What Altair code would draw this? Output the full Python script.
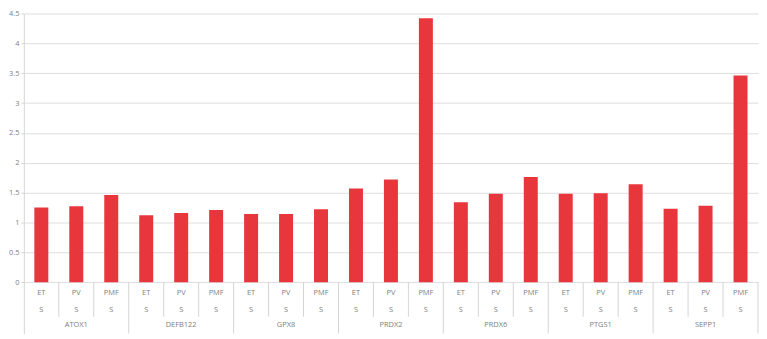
import altair as alt
import pandas as pd

genes = ["ATOX1", "DEFB122", "GPX8", "PRDX2", "PRDX6", "PTGS1", "SEPP1"]
conditions = ["ET", "PV", "PMF"]
sample_label = "S"
values_et = [1.25, 1.12, 1.14, 1.57, 1.34, 1.48, 1.23]
values_pv = [1.27, 1.16, 1.14, 1.72, 1.48, 1.49, 1.28]
values_pmf = [1.46, 1.21, 1.22, 4.42, 1.76, 1.64, 3.46]
y_ticks = [0.0, 0.5, 1.0, 1.5, 2.0, 2.5, 3.0, 3.5, 4.0, 4.5]

# layout constants (data units of the y scale for the category table below zero)
ROW_COND = -0.18
ROW_SAMPLE = -0.46
ROW_GENE = -0.72
SEP_SHORT = -0.58
Y_MIN = -0.86
HALF_BAR = 0.2

series = {"ET": values_et, "PV": values_pv, "PMF": values_pmf}
rows = []
for g, gene in enumerate(genes):
    for c, cond in enumerate(conditions):
        i = 3 * g + c
        rows.append({"slot": i, "lo": i - HALF_BAR, "hi": i + HALF_BAR,
                     "gene": gene, "cond": cond, "sample": sample_label,
                     "value": series[cond][g], "base": 0.0,
                     "rc": ROW_COND, "rs": ROW_SAMPLE})
df = pd.DataFrame(rows)
n = len(df)

gene_df = pd.DataFrame({"slot": [3 * g + 1 for g in range(len(genes))], "gene": genes,
                        "rg": [ROW_GENE] * len(genes)})

sep_rows = []
for i in range(1, n + 1):
    sep_rows.append({"x": i - 0.5, "y": 0.0, "y2": Y_MIN if i % 3 == 0 else SEP_SHORT})
sep_df = pd.DataFrame(sep_rows)

xscale = alt.Scale(domain=[-0.5, n - 0.5], nice=False, zero=False)
yscale = alt.Scale(domain=[Y_MIN, 4.5], nice=False, zero=False)

FONT = "Open Sans"
TXT = "#808080"

yaxis = alt.Axis(values=y_ticks, format="~g", grid=True, gridColor="#dedede",
                 domainColor="#d4d4d4", tickColor="#d4d4d4", tickSize=3,
                 labelFont=FONT, labelFontSize=7.5, labelColor=TXT, labelPadding=2,
                 title=None)

bars = alt.Chart(df).mark_bar(color="#E8363D").encode(
    x=alt.X("lo:Q", scale=xscale, axis=None),
    x2="hi:Q",
    y=alt.Y("value:Q", scale=yscale, axis=yaxis),
    y2="base:Q",
)

seps = alt.Chart(sep_df).mark_rule(color="#d4d4d4", strokeWidth=1).encode(
    x=alt.X("x:Q", scale=xscale, axis=None),
    y=alt.Y("y:Q", scale=yscale, axis=yaxis),
    y2="y2:Q",
)

def text_layer(data, yfield, tfield):
    return alt.Chart(data).mark_text(font=FONT, fontSize=7.5, color=TXT, baseline="middle").encode(
        x=alt.X("slot:Q", scale=xscale, axis=None),
        y=alt.Y(f"{yfield}:Q", scale=yscale, axis=yaxis),
        text=f"{tfield}:N",
    )

cond_text = text_layer(df, "rc", "cond")
sample_text = text_layer(df, "rs", "sample")
gene_text = text_layer(gene_df, "rg", "gene")

chart = alt.layer(bars, seps, cond_text, sample_text, gene_text).properties(
    width=741, height=323, padding={"left": 0, "top": 0, "right": 0, "bottom": 0},
    background="white",
).configure_view(stroke=None)

chart.save("out.html", embed_options={"renderer": "svg", "actions": False})
